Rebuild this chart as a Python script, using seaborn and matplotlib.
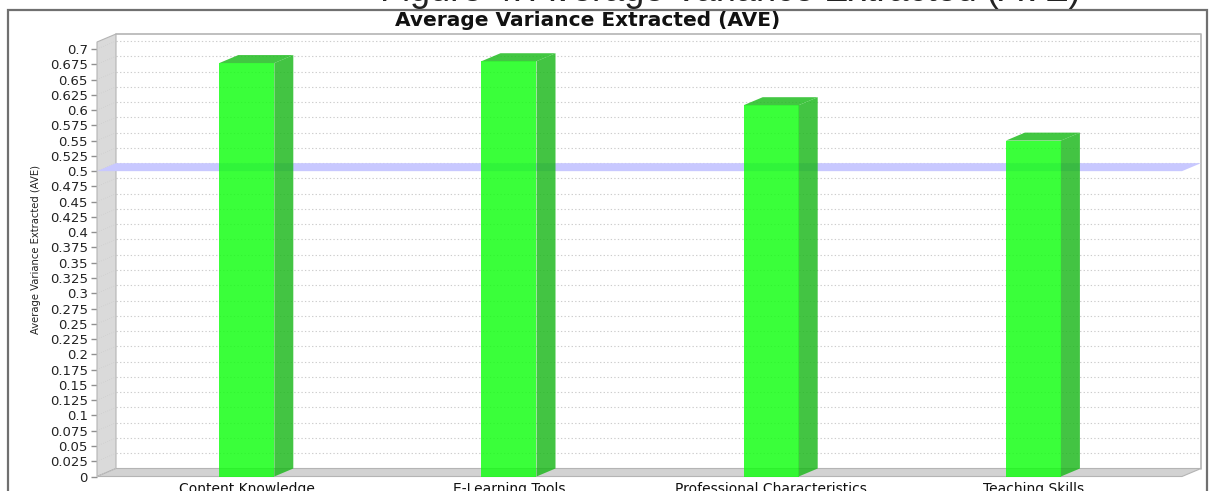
import numpy as np
import matplotlib
matplotlib.use("Agg")
import matplotlib.pyplot as plt
from matplotlib.patches import Polygon, Rectangle
import seaborn as sns

# --- data -------------------------------------------------------------
categories = ["Content Knowledge", "E-Learning Tools",
              "Professional Characteristics", "Teaching Skills"]
ave_values = [0.677, 0.680, 0.608, 0.550]
threshold = 0.5
y_ticks = np.arange(0, 0.7001, 0.025)

# --- style ------------------------------------------------------------
sns.set_theme(style="white")
plt.rcParams["font.family"] = ["DejaVu Sans"]

FRONT = "#40ff40"
WALL = "#dadada"
WALL_EDGE = "#b4b4b4"
GRID = "#cdcdcd"
BAND = "#c8c8ff"

W, H = 1210, 491
fig = plt.figure(figsize=(W / 100, H / 100), dpi=100)

# axes covers the whole pseudo-3D plot box (front plane + depth offset)
left_px, right_px, top_px, bottom_px = 97, 1201, 34, 476.5
ax = fig.add_axes([left_px / W, (H - bottom_px) / H,
                   (right_px - left_px) / W, (bottom_px - top_px) / H])

# scales: px per data unit
sx, sy = 262.2, 610.7
x0 = (left_px - 246.8) / sx
x1 = (right_px - 246.8) / sx
ytop = (bottom_px - top_px) / sy
dx, dy = 19 / sx, 8 / sy
bar_w = 55 / sx

# front faces of the bars
df = {"category": categories, "ave": ave_values}
sns.barplot(x="category", y="ave", data=df, color=FRONT, saturation=1,
            width=bar_w, linewidth=0, ax=ax, zorder=5)
for p in ax.patches:
    p.set_facecolor((0.06, 1.0, 0.06, 0.82))

ax.set_xlim(x0, x1)
ax.set_ylim(0, ytop)

# back plane border
ax.plot([x0 + dx, x1, x1], [ytop, ytop, dy], color=WALL_EDGE, lw=1.2,
        clip_on=False, zorder=1)

# left wall and floor
ax.add_patch(Polygon([(x0, 0), (x0 + dx, dy), (x0 + dx, ytop), (x0, ytop - dy)],
                     closed=True, facecolor=WALL, edgecolor=WALL_EDGE, lw=0.8,
                     clip_on=False, zorder=2))
ax.add_patch(Polygon([(x0, 0), (x1 - dx, 0), (x1, dy), (x0 + dx, dy)],
                     closed=True, facecolor="#d2d2d2", edgecolor=WALL_EDGE, lw=0.8,
                     clip_on=False, zorder=2))

# gridlines on the back plane, with the slanted guides on the wall
for t in y_ticks:
    ax.plot([x0 + dx, x1], [t + dy, t + dy], color=GRID, lw=0.8,
            ls=(0, (1.2, 2.0)), zorder=1.5)
    ax.plot([x0, x0 + dx], [t, t + dy], color="#cccccc", lw=0.5,
            ls=(0, (1.2, 2.0)), zorder=2.5)

# threshold band lying in depth at 0.5
ax.add_patch(Polygon([(x0, threshold), (x1 - dx, threshold),
                      (x1, threshold + dy), (x0 + dx, threshold + dy)],
                     closed=True, facecolor=BAND, edgecolor="none",
                     zorder=3, clip_on=False))

# side and top faces of every bar, taken from the drawn bar geometry
for p in ax.patches[:len(categories)]:
    xl = p.get_x()
    xr = xl + p.get_width()
    v = p.get_height()
    ax.add_patch(Polygon([(xr, 0), (xr + dx, dy), (xr + dx, v + dy), (xr, v)],
                         closed=True, facecolor=(0.1, 0.72, 0.1, 0.82),
                         edgecolor="none", zorder=5))
    ax.add_patch(Polygon([(xl, v), (xr, v), (xr + dx, v + dy), (xl + dx, v + dy)],
                         closed=True, facecolor=(0.13, 0.74, 0.13, 0.85),
                         edgecolor="none", zorder=5))

# axes, ticks and labels
for s in ax.spines.values():
    s.set_visible(False)
ax.set_yticks(y_ticks)
ax.set_yticklabels([f"{t:g}" for t in y_ticks])
ax.tick_params(axis="y", left=True, length=4, width=1, color="#909090",
               pad=2.5, labelsize=9.5, labelcolor="#222222")
ax.tick_params(axis="x", bottom=False, length=0, pad=4, labelsize=10,
               labelcolor="#111111")
ax.set_xlabel("")
ax.set_ylabel("")

fig.text(36 / W, 1 - 249 / H, "Average Variance Extracted (AVE)",
         rotation=90, ha="center", va="center", fontsize=7.2,
         color="#222222")

fig.text(588 / W, 1 - 21 / H, "Average Variance Extracted (AVE)",
         ha="center", va="center", fontsize=14.5, fontweight="bold",
         color="#111111")

# caption running off the top edge
fig.text(730 / W, 1 - 1 / H, "Figure 4: Average Variance Extracted (AVE)",
         ha="center", va="baseline", fontsize=26, color="#222222",
         family=["Liberation Sans", "DejaVu Sans"])

# outer frame
fig.add_artist(Rectangle((8 / W, -0.05), 1199 / W, 1 - 10 / H + 0.05,
                         transform=fig.transFigure, fill=False,
                         edgecolor="#707070", lw=1.6))

fig.savefig("out.png", dpi=100)
